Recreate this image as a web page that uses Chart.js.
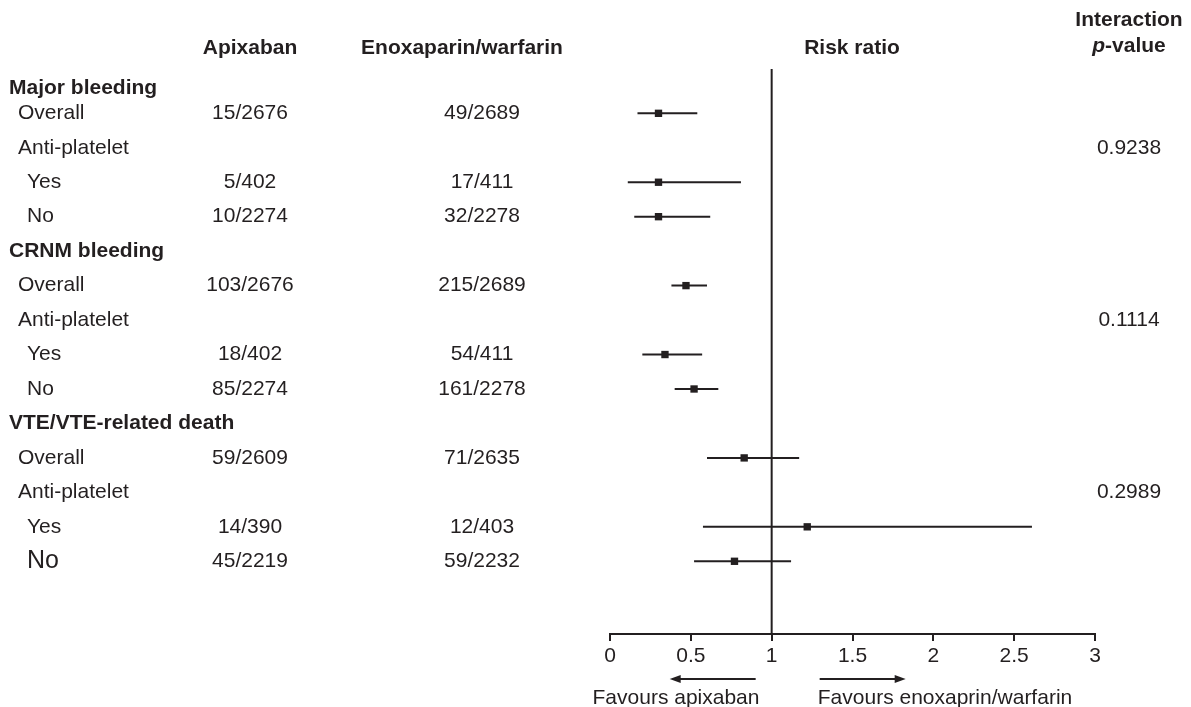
<!DOCTYPE html>
<html>
<head>
<meta charset="utf-8">
<script src="https://cdn.jsdelivr.net/npm/chart.js@4.4.1/dist/chart.umd.min.js"></script>
<style>
  html, body { margin: 0; padding: 0; background: #ffffff; }
  #wrap { width: 1191px; height: 707px; position: relative; }
  canvas { display: block; }
</style>
</head>
<body>
<div id="wrap"><canvas id="forest" width="1191" height="707" style="width:1191px;height:707px"></canvas></div>
<script>
// ---------------- data ----------------
const rowLabels = [
  "Major bleeding", "Overall", "Anti-platelet", "Yes", "No",
  "CRNM bleeding", "Overall", "Anti-platelet", "Yes", "No",
  "VTE/VTE-related death", "Overall", "Anti-platelet", "Yes", "No"
];
const rowLevels = [0, 1, 1, 2, 2, 0, 1, 1, 2, 2, 0, 1, 1, 2, 2];
const apixabanEvents = [
  "", "15/2676", "", "5/402", "10/2274",
  "", "103/2676", "", "18/402", "85/2274",
  "", "59/2609", "", "14/390", "45/2219"
];
const comparatorEvents = [
  "", "49/2689", "", "17/411", "32/2278",
  "", "215/2689", "", "54/411", "161/2278",
  "", "71/2635", "", "12/403", "59/2232"
];
const riskRatio = [
  null, 0.30, null, 0.30, 0.30,
  null, 0.47, null, 0.34, 0.52,
  null, 0.83, null, 1.22, 0.77
];
const ciLow = [
  null, 0.17, null, 0.11, 0.15,
  null, 0.38, null, 0.20, 0.40,
  null, 0.60, null, 0.575, 0.52
];
const ciHigh = [
  null, 0.54, null, 0.81, 0.62,
  null, 0.60, null, 0.57, 0.67,
  null, 1.17, null, 2.61, 1.12
];
const interactionP = [
  null, null, "0.9238", null, null,
  null, null, "0.1114", null, null,
  null, null, "0.2989", null, null
];
const columnHeaders = ["Apixaban", "Enoxaparin/warfarin", "Risk ratio"];
const pHeader = ["Interaction", "p", "-value"];
const xTickValues = [0, 0.5, 1, 1.5, 2, 2.5, 3];
const favourLabels = ["Favours apixaban", "Favours enoxaprin/warfarin"];
const nullEffect = 1;

// ---------------- style / layout ----------------
const INK = "#231f20";
const FONT = "'Liberation Sans', Arial, Helvetica, sans-serif";
const FS = 21;

const ciDatasets = [];
riskRatio.forEach((v, i) => {
  if (v === null) return;
  ciDatasets.push({
    data: [{ x: ciLow[i], y: i }, { x: ciHigh[i], y: i }],
    showLine: true,
    borderColor: INK,
    borderWidth: 2,
    pointRadius: 0,
    pointHoverRadius: 0,
    fill: false,
    order: 2
  });
});
const pointDataset = {
  data: riskRatio.map((v, i) => (v === null ? null : { x: v, y: i })).filter(Boolean),
  pointStyle: "rect",
  pointRadius: 5.2,
  backgroundColor: INK,
  borderColor: INK,
  borderWidth: 0,
  order: 1
};

const textPlugin = {
  id: "forestText",
  beforeDatasetsDraw(chart) {
    const { ctx, chartArea, scales } = chart;
    const x1 = scales.x.getPixelForValue(nullEffect);
    ctx.save();
    ctx.strokeStyle = INK;
    ctx.lineWidth = 2;
    ctx.beginPath();
    ctx.moveTo(x1, chartArea.top);
    ctx.lineTo(x1, chartArea.bottom);
    ctx.stroke();
    ctx.restore();
  },
  afterDraw(chart) {
    const { ctx, scales } = chart;
    const ys = scales.y, xs = scales.x;
    ctx.save();
    ctx.fillStyle = INK;
    ctx.textBaseline = "middle";

    // column headers
    ctx.font = `bold ${FS}px ${FONT}`;
    ctx.textAlign = "center";
    ctx.fillText(columnHeaders[0], 250, 48);
    ctx.fillText(columnHeaders[1], 462, 48);
    ctx.fillText(columnHeaders[2], 852, 48);
    ctx.fillText(pHeader[0], 1129, 20);
    // p-value header with italic p
    const wP = (() => { ctx.font = `italic bold ${FS}px ${FONT}`; return ctx.measureText(pHeader[1]).width; })();
    ctx.font = `bold ${FS}px ${FONT}`;
    const wRest = ctx.measureText(pHeader[2]).width;
    const startX = 1129 - (wP + wRest) / 2;
    ctx.textAlign = "left";
    ctx.font = `italic bold ${FS}px ${FONT}`;
    ctx.fillText(pHeader[1], startX, 46);
    ctx.font = `bold ${FS}px ${FONT}`;
    ctx.fillText(pHeader[2], startX + wP, 46);

    // rows
    rowLabels.forEach((label, i) => {
      let y = ys.getPixelForValue(i);
      const lvl = rowLevels[i];
      if (lvl === 0) {
        if (i === 0) y += 9;
        ctx.font = `bold ${FS}px ${FONT}`;
      } else if (i === rowLabels.length - 1) {
        ctx.font = `${FS + 4}px ${FONT}`;
      } else {
        ctx.font = `${FS}px ${FONT}`;
      }
      ctx.textAlign = "left";
      ctx.fillText(label, 9 + lvl * 9, y);
      ctx.font = `${FS}px ${FONT}`;
      ctx.textAlign = "center";
      if (apixabanEvents[i]) ctx.fillText(apixabanEvents[i], 250, y);
      if (comparatorEvents[i]) ctx.fillText(comparatorEvents[i], 482, y);
      if (interactionP[i]) ctx.fillText(interactionP[i], 1129, y);
    });

    // favours arrows
    const ay = 679;
    const xa = xs.getPixelForValue(nullEffect);
    ctx.strokeStyle = INK;
    ctx.lineWidth = 2;
    const arrow = (from, to) => {
      const dir = Math.sign(to - from);
      ctx.beginPath();
      ctx.moveTo(from, ay);
      ctx.lineTo(to - dir * 8, ay);
      ctx.stroke();
      ctx.beginPath();
      ctx.moveTo(to, ay);
      ctx.lineTo(to - dir * 11, ay - 4);
      ctx.lineTo(to - dir * 11, ay + 4);
      ctx.closePath();
      ctx.fill();
    };
    arrow(xa - 16, xa - 102);
    arrow(xa + 48, xa + 134);
    ctx.font = `${FS}px ${FONT}`;
    ctx.textAlign = "center";
    ctx.fillText(favourLabels[0], 676, 698);
    ctx.fillText(favourLabels[1], 945, 698);
    ctx.restore();
  }
};

new Chart(document.getElementById("forest"), {
  type: "scatter",
  data: { datasets: [...ciDatasets, pointDataset] },
  options: {
    responsive: false,
    animation: false,
    events: [],
    layout: { padding: { left: 610, right: 96, top: 69, bottom: 0 } },
    plugins: { legend: { display: false }, tooltip: { enabled: false } },
    scales: {
      x: {
        type: "linear",
        position: "bottom",
        min: xTickValues[0],
        max: xTickValues[xTickValues.length - 1],
        afterBuildTicks: (s) => { s.ticks = xTickValues.map(v => ({ value: v })); },
        afterFit: (s) => { s.height = 73; },
        border: { display: true, color: INK, width: 2 },
        grid: { display: true, drawOnChartArea: false, drawTicks: true, tickLength: 7, color: INK, lineWidth: 2 },
        ticks: {
          color: INK,
          padding: 3,
          maxRotation: 0,
          autoSkip: false,
          font: { family: FONT, size: FS },
          callback: (v) => String(v)
        }
      },
      y: {
        type: "linear",
        display: false,
        reverse: true,
        min: -0.286,
        max: 16.11
      }
    }
  },
  plugins: [textPlugin]
});
</script>
</body>
</html>
